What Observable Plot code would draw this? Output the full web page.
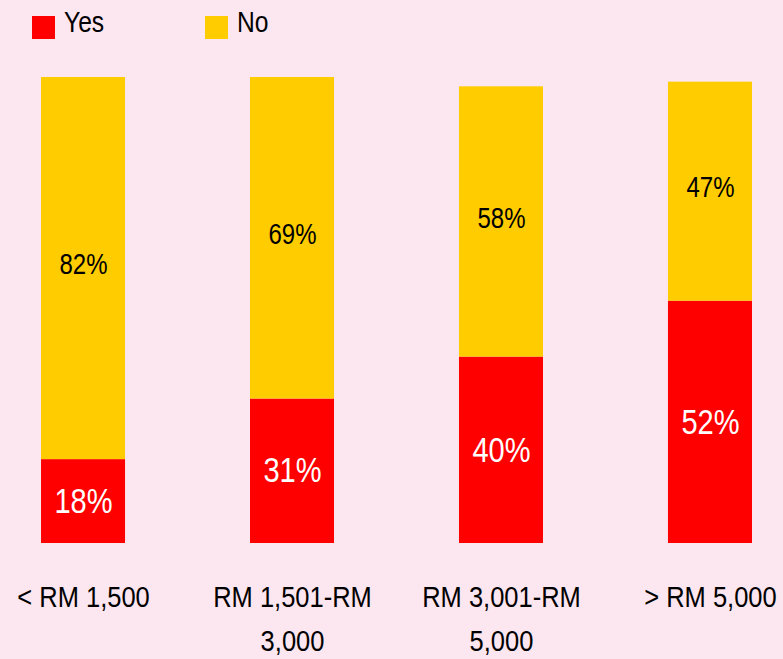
<!DOCTYPE html>
<html>
<head>
<meta charset="utf-8">
<script src="https://cdn.jsdelivr.net/npm/d3@7"></script>
<script src="https://cdn.jsdelivr.net/npm/@observablehq/plot@0.6"></script>
<style>
  html, body { margin: 0; padding: 0; }
  body { width: 783px; height: 659px; background: #fce6ef; font-family: "Liberation Sans", Arial, sans-serif; position: relative; overflow: hidden; }
  #legend { position: relative; height: 50px; }
  .sw { position: absolute; top: 16px; width: 23px; height: 23px; }
  .lt { position: absolute; top: 5px; font-size: 30px; line-height: 34px; color: #000; transform: scaleX(0.82); transform-origin: left center; }
  #chart svg { display: block; background: transparent; }
</style>
</head>
<body>
<div id="legend">
  <div class="sw" style="left:32px;background:#ff0000"></div><div class="lt" style="left:64px">Yes</div>
  <div class="sw" style="left:205px;background:#ffcc00"></div><div class="lt" style="left:237px">No</div>
</div>
<div id="chart"></div>
<script>
const categories = ["< RM 1,500", "RM 1,501-RM 3,000", "RM 3,001-RM 5,000", "> RM 5,000"];
const tickLabels = ["< RM 1,500", "RM 1,501-RM\n3,000", "RM 3,001-RM\n5,000", "> RM 5,000"];
const series = ["Yes", "No"];
const yesValues = [18, 31, 40, 52];
const noValues = [82, 69, 58, 47];
const colors = ["#ff0000", "#ffcc00"];

const data = [];
categories.forEach((c, i) => {
  data.push({category: c, answer: "Yes", value: yesValues[i]});
  data.push({category: c, answer: "No", value: noValues[i]});
});
const labelMap = new Map(categories.map((c, i) => [c, tickLabels[i]]));
const font = '"Liberation Sans", Arial, sans-serif';

const chart = Plot.plot({
  width: 783,
  height: 609,
  marginTop: 27,
  marginBottom: 116,
  marginLeft: 10,
  marginRight: 0,
  style: {background: "transparent", fontFamily: font},
  x: {domain: categories, paddingInner: 0.598, paddingOuter: 0.1484, align: 0.5, round: false, label: null},
  y: {domain: [0, 100], axis: null},
  color: {domain: series, range: colors},
  marks: [
    Plot.barY(data, Plot.stackY({x: "category", y: "value", fill: "answer", order: series})),
    Plot.text(data, Plot.stackY({x: "category", y: "value", z: "answer", order: series, text: d => d.answer === "Yes" ? d.value + "%" : null, fill: "white", fontSize: 35, className: "lbl-yes"})),
    Plot.text(data, Plot.stackY({x: "category", y: "value", z: "answer", order: series, text: d => d.answer === "No" ? d.value + "%" : null, fill: "black", fontSize: 30, dy: -4, className: "lbl-no"})),
    Plot.axisX({tickSize: 0, tickPadding: 32, fontSize: 30, lineHeight: 1.467, tickFormat: d => labelMap.get(d), fill: "black", label: null, className: "axis-x"})
  ]
});
document.getElementById("chart").appendChild(chart);
// condense text horizontally to mimic a narrow face
const squeeze = (sel, k) => chart.querySelectorAll(sel).forEach(t => {
  const tr = t.getAttribute("transform") || "";
  t.setAttribute("transform", (tr + ` scale(${k},1)`).trim());
});
squeeze(".lbl-yes text", 0.83);
squeeze(".lbl-no text", 0.8);
squeeze(".axis-x text", 0.85);
</script>
</body>
</html>
